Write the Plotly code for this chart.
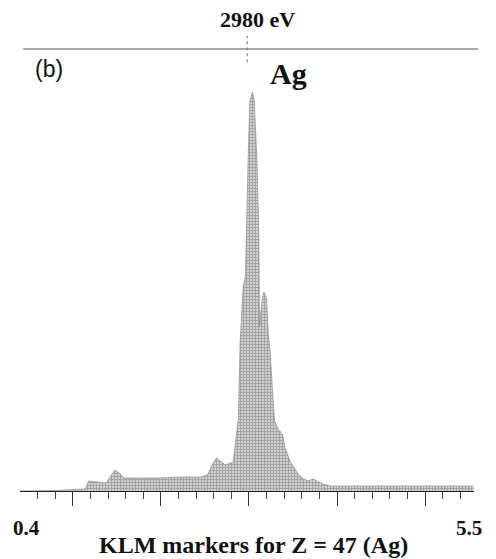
import plotly.graph_objects as go

# Spectrum (energy in keV, intensity in arbitrary counts)
energy_kev = [0.40, 0.82, 0.99, 1.14, 1.18, 1.31, 1.38, 1.43, 1.48, 1.54, 1.58, 1.77,
              1.99, 2.22, 2.45, 2.53, 2.58, 2.63, 2.67, 2.73, 2.79, 2.82, 2.84, 2.88,
              2.90, 2.935, 2.96, 2.97, 2.99, 3.01, 3.04, 3.06, 3.07, 3.09, 3.11, 3.12,
              3.13, 3.15, 3.17, 3.20, 3.22, 3.24, 3.26, 3.29, 3.33, 3.38, 3.41, 3.47,
              3.55, 3.62, 3.67, 3.73, 3.79, 3.84, 3.92, 4.26, 4.72, 5.17, 5.55]
counts = [0, 0.5, 1.5, 2, 10, 9, 8, 15, 21, 17, 13, 13,
          13, 14, 14, 16, 26, 33, 30, 26, 28, 29, 43, 73,
          150, 205, 214, 264, 331, 390, 399, 390, 370, 331, 264, 165,
          175, 192, 199, 192, 155, 140, 110, 70, 62, 57, 43, 29,
          18, 12, 10, 12, 9, 7, 5, 5, 5.5, 5, 5]

marker_energy_kev = 2.98
marker_label = "2980 eV"
element_label = "Ag"
panel_label = "(b)"
axis_min_label = "0.4"
axis_max_label = "5.5"
axis_title = "KLM markers for Z = 47 (Ag)"
x_range = [0.4, 5.555]
y_range = [0, 442]
major_ticks = [1, 2, 3, 4, 5]
minor_ticks = [round(0.6 + 0.2 * i, 1) for i in range(25)]

serif = "Liberation Serif, Times New Roman, serif"
sans = "Liberation Sans, Arial, sans-serif"

fig = go.Figure()
fig.add_trace(go.Scatter(
    x=energy_kev, y=counts, mode="lines",
    line=dict(color="#8c8c8c", width=0.7),
    fill="tozeroy",
    fillcolor="rgba(255,255,255,0)",
    fillpattern=dict(shape="+", fgcolor="#6e6e6e", bgcolor="#d2d2d2", size=3, solidity=0.5),
    hoverinfo="skip", showlegend=False,
))

fig.update_layout(
    width=496, height=559,
    margin=dict(l=20, r=22, t=49, b=68),
    paper_bgcolor="white", plot_bgcolor="white",
    xaxis=dict(range=x_range, showgrid=False, zeroline=False,
               showline=True, linecolor="#222", linewidth=1.2,
               tickmode="array", tickvals=major_ticks, ticks="outside",
               ticklen=14, tickwidth=1, tickcolor="#333",
               showticklabels=False,
               minor=dict(tickmode="array", tickvals=minor_ticks, ticks="outside",
                          ticklen=7, tickwidth=1, tickcolor="#444")),
    yaxis=dict(range=y_range, visible=False),
)

# top horizontal line
fig.add_shape(type="line", xref="paper", yref="paper", x0=0.007, x1=1.009, y0=1, y1=1,
              line=dict(color="#555", width=1.2))
# KLM marker line
fig.add_shape(type="line", xref="x", yref="paper", x0=marker_energy_kev, x1=marker_energy_kev,
              y0=0.97, y1=1.03, line=dict(color="#777", width=1, dash="dot"))

fig.add_annotation(x=3.10, xref="x", y=1.066, yref="paper", text=f"<b>{marker_label}</b>",
                   showarrow=False, font=dict(family=serif, size=22, color="#111"),
                   xanchor="center", yanchor="middle")
fig.add_annotation(x=0.028, xref="paper", y=0.955, yref="paper", text=panel_label,
                   showarrow=False, font=dict(family=sans, size=23, color="#111"),
                   xanchor="left", yanchor="middle")
fig.add_annotation(x=3.22, xref="x", y=0.945, yref="paper", text=f"<b>{element_label}</b>",
                   showarrow=False, font=dict(family=serif, size=30, color="#111"),
                   xanchor="left", yanchor="middle")
fig.add_annotation(x=0.015, xref="paper", y=-0.084, yref="paper", text=f"<b>{axis_min_label}</b>",
                   showarrow=False, font=dict(family=serif, size=21, color="#111"),
                   xanchor="center", yanchor="middle")
fig.add_annotation(x=0.989, xref="paper", y=-0.084, yref="paper", text=f"<b>{axis_max_label}</b>",
                   showarrow=False, font=dict(family=serif, size=21, color="#111"),
                   xanchor="center", yanchor="middle")
fig.add_annotation(x=0.515, xref="paper", y=-0.122, yref="paper", text=f"<b>{axis_title}</b>",
                   showarrow=False, font=dict(family=serif, size=24, color="#111"),
                   xanchor="center", yanchor="middle")

fig.write_html("out.html")
